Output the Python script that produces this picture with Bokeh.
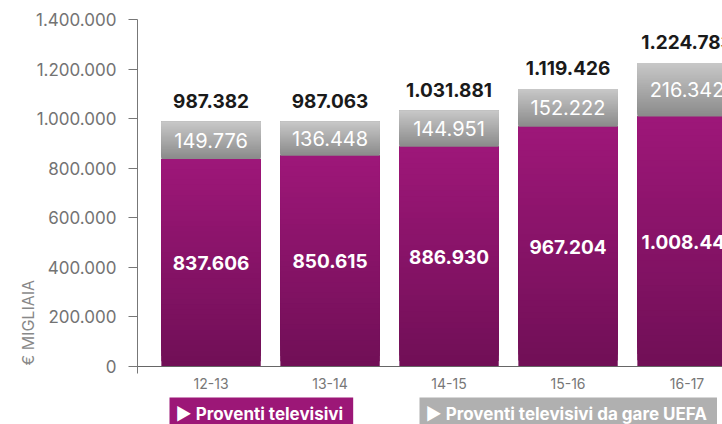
import numpy as np
from bokeh.plotting import figure
from bokeh.models import ColumnDataSource, FixedTicker, Label, Range1d
from bokeh.core.properties import value
from bokeh.embed import file_html
from bokeh.resources import INLINE

# ---- data ----
seasons = ["12-13", "13-14", "14-15", "15-16", "16-17"]
proventi_tv = [837606, 850615, 886930, 967204, 1008441]
proventi_uefa = [149776, 136448, 144951, 152222, 216342]
y_ticks = [0, 200000, 400000, 600000, 800000, 1000000, 1200000, 1400000]

def fmt(v):
    return f"{v:,}".replace(",", ".")

FONT = "Inter"
xs = list(range(len(seasons)))
totals = [a + b for a, b in zip(proventi_tv, proventi_uefa)]
BAR_W = 0.835

# layout geometry (pixels)
W, H = 722, 424
AX_X, Y0_PX, YTOP_PX = 137, 366, 19      # y-axis position, y=0 row, y=1.4M row
PX_PER_CAT = 119
X_AXIS_AT = -0.618
y_max = y_ticks[-1]
u_per_px = y_max / (Y0_PX - YTOP_PX)
x_start = X_AXIS_AT - AX_X / PX_PER_CAT
x_end = X_AXIS_AT + (W - AX_X) / PX_PER_CAT
y_start = -(H - Y0_PX) * u_per_px
y_end = y_max + YTOP_PX * u_per_px

p = figure(width=W, height=H, output_backend="svg", toolbar_location=None,
           x_range=Range1d(x_start, x_end), y_range=Range1d(y_start, y_end),
           min_border_left=0, min_border_right=0, min_border_top=0,
           min_border_bottom=0, outline_line_color=None)
p.grid.visible = False
p.background_fill_color = "white"

def hex2rgb(h):
    h = h.lstrip("#")
    return np.array([int(h[i:i + 2], 16) for i in (0, 2, 4)], dtype=float)

def gradient_quads(bottoms, tops, c_top, c_bot, n=40):
    ct, cb = hex2rgb(c_top), hex2rgb(c_bot)
    L, R, B, T, C = [], [], [], [], []
    for k in range(n):
        for x, b, t in zip(xs, bottoms, tops):
            L.append(x - BAR_W / 2); R.append(x + BAR_W / 2)
            B.append(b + (t - b) * k / n); T.append(t)
            f = (k + 0.5) / n  # 0 bottom -> 1 top
            c = cb + (ct - cb) * f
            C.append("#%02x%02x%02x" % tuple(int(round(v)) for v in c))
    src = ColumnDataSource(dict(left=L, right=R, bottom=B, top=T, color=C))
    p.quad(left="left", right="right", bottom="bottom", top="top", fill_color="color",
           line_color=None, source=src)

gradient_quads([0] * 5, proventi_tv, "#9e1779", "#700f56")
gradient_quads(proventi_tv, totals, "#c8c8c8", "#8a8a8a")

lab = ColumnDataSource(dict(
    x=xs,
    tv_mid=[v / 2 for v in proventi_tv],
    tv_txt=[fmt(v) for v in proventi_tv],
    ue_mid=[a + b / 2 for a, b in zip(proventi_tv, proventi_uefa)],
    ue_txt=[fmt(v) for v in proventi_uefa],
    tot=totals,
    tot_txt=[fmt(v) for v in totals],
))
p.text(x="x", y="tv_mid", text="tv_txt", source=lab, text_align="center",
       text_baseline="middle", text_color="white", text_font=value(FONT),
       text_font_size="19px", text_font_style="bold")
p.text(x="x", y="ue_mid", text="ue_txt", source=lab, text_align="center",
       text_baseline="middle", text_color="white", text_font=value(FONT),
       text_font_size="20px")
p.text(x="x", y="tot", text="tot_txt", source=lab, text_align="center",
       text_baseline="middle", y_offset=-21, text_color="#1a1a1a",
       text_font=value(FONT), text_font_size="19px", text_font_style="bold")

# axes (placed inside the frame at fixed data positions)
ya = p.yaxis[0]
ya.fixed_location = X_AXIS_AT
ya.bounds = (-7 * u_per_px, y_max)
ya.ticker = FixedTicker(ticks=y_ticks)
ya.major_label_overrides = {t: fmt(t) for t in y_ticks}
ya.axis_line_color = "#777777"
ya.major_tick_line_color = "#777777"
ya.major_tick_out = 9
ya.major_tick_in = 0
ya.minor_tick_line_color = None
ya.major_label_standoff = 12
ya.major_label_text_font = FONT
ya.major_label_text_font_size = "17px"
ya.major_label_text_color = "#737373"

xa = p.xaxis[0]
xa.fixed_location = 0
xa.bounds = (X_AXIS_AT, x_end)
xa.ticker = FixedTicker(ticks=xs)
xa.major_label_overrides = {i: s for i, s in enumerate(seasons)}
xa.axis_line_color = "#666666"
xa.major_tick_line_color = None
xa.minor_tick_line_color = None
xa.major_label_standoff = 5
xa.major_label_text_font = FONT
xa.major_label_text_font_size = "14px"
xa.major_label_text_color = "#777777"

# y axis title
p.add_layout(Label(x=27, y=H - 365, x_units="screen", y_units="screen", text="€ MIGLIAIA",
                   angle=np.pi / 2, text_font=FONT, text_font_size="16px",
                   text_color="#888888", text_align="left", text_baseline="middle"))

# legend boxes
p.add_layout(Label(x=169, y=H - 413, x_units="screen", y_units="screen",
                   text="▶  Proventi televisivi", text_font=FONT, text_font_size="17px",
                   text_font_style="bold", text_color="white", text_baseline="middle",
                   background_fill_color="#9c1777", padding=6))
p.add_layout(Label(x=419, y=H - 413, x_units="screen", y_units="screen",
                   text="▶  Proventi televisivi da gare UEFA", text_font=FONT,
                   text_font_size="17px", text_font_style="bold", text_color="white",
                   text_baseline="middle", background_fill_color="#b0b0b0", padding=6))

open("out.html", "w").write(file_html(p, INLINE))
